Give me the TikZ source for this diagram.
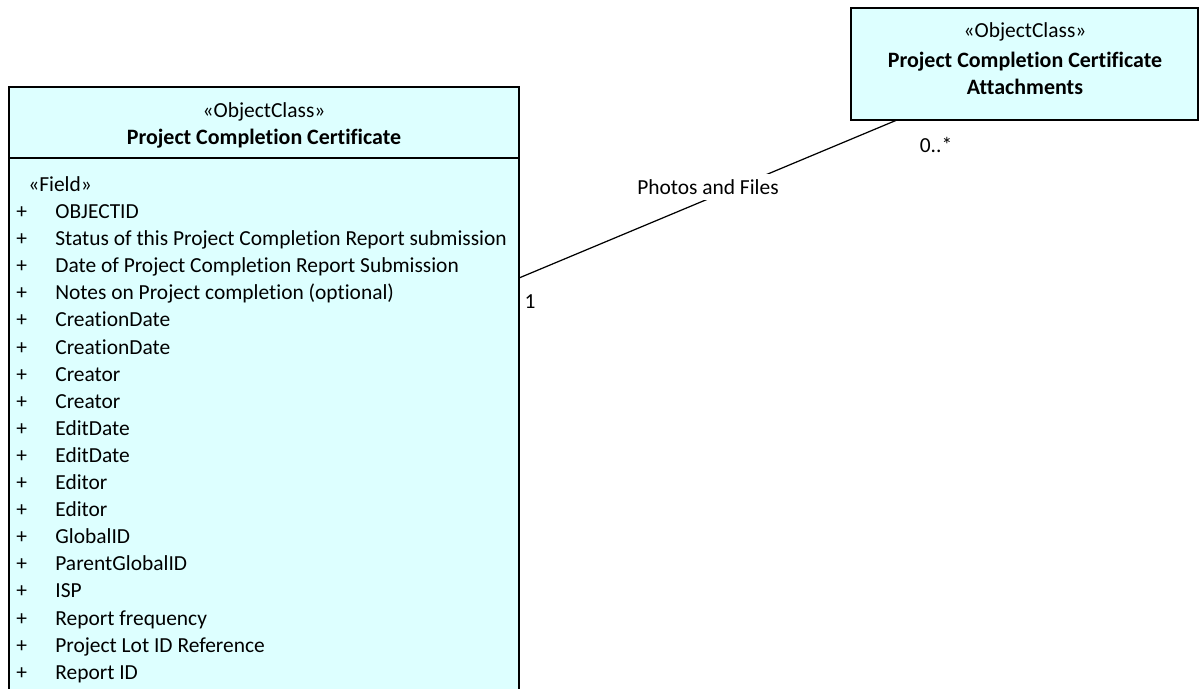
\documentclass[tikz,border=0pt]{standalone}
\usepackage{fontspec}
\setmainfont{Carlito}[Ligatures=CommonOff]
\usepackage{xcolor}
\usetikzlibrary{positioning}
\definecolor{classfill}{RGB}{221,255,255}

\begin{document}
\begin{tikzpicture}[
    x=0.02cm, y=-0.02cm,
    classbox/.style={rectangle, draw, fill=classfill, line width=0.7pt},
    stereo/.style={font=\fontsize{12.2}{14}\selectfont, inner sep=0pt},
    title/.style={font=\fontsize{12.5}{15.4}\selectfont\bfseries, inner sep=0pt, align=center},
    field/.style={font=\fontsize{12.2}{14}\selectfont, inner sep=0pt, anchor=base west},
    lbl/.style={font=\fontsize{12.2}{14}\selectfont, inner sep=0pt}
]
    \useasboundingbox (0,0) rectangle (1200,689);
    \begin{scope}
    \clip (0,0) rectangle (1200,689);

    % Project Completion Certificate
    \draw[classbox] (9,87) rectangle (519,720);
    \draw[line width=0.7pt] (9,158) -- (519,158);
    \node[stereo] (pcc-st) at (264,112) {«ObjectClass»};
    \node[title] (pcc) at (264,139) {Project Completion Certificate};
    \node[field] (pcc-fld) at (28,191.5) {«Field»};
    \foreach \name [count=\i from 0] in {OBJECTID,
        Status of this Project Completion Report submission,
        Date of Project Completion Report Submission,
        Notes on Project completion (optional),
        CreationDate, CreationDate, Creator, Creator,
        EditDate, EditDate, Editor, Editor, GlobalID,
        ParentGlobalID, ISP, Report frequency,
        Project Lot ID Reference, Report ID}
    {
        \node[field] (plus\i) at (16,218.5+27.1*\i) {+};
        \node[field] (f\i) at (55,218.5+27.1*\i) {\name};
    }

    % Attachments
    \draw[classbox] (851,8) rectangle (1198,120);
    \node[stereo] (att-st) at (1025,32) {«ObjectClass»};
    \node[title] (att) at (1025,73.5) {Project Completion Certificate\\Attachments};
    \end{scope}

    % association
    \coordinate (pcc-end) at (519,278);
    \coordinate (att-end) at (897,120);
    \draw[line width=0.7pt] (pcc-end) -- (att-end);
    \node[lbl, fill=white, inner xsep=2pt, inner ysep=3pt] (assoc) at (708,187) {Photos and Files};
    \node[lbl] (m1) at (530,302) {1};
    \node[lbl] (m2) at (936,145) {0..*};
\end{tikzpicture}
\end{document}
